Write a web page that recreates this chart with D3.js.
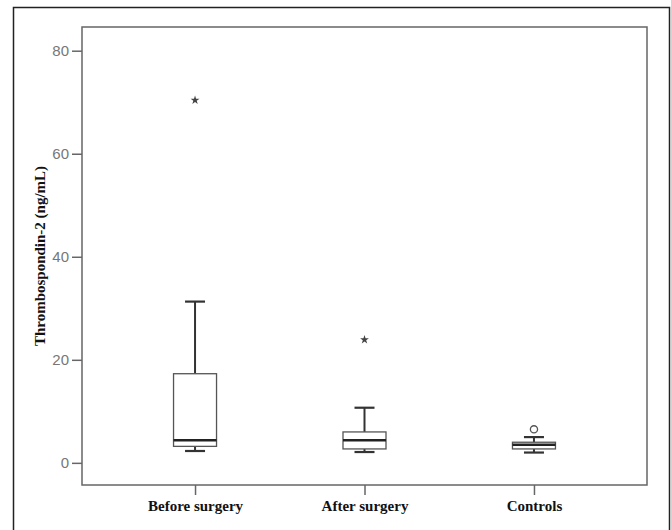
<!DOCTYPE html>
<html>
<head>
<meta charset="utf-8">
<script src="https://cdn.jsdelivr.net/npm/d3@7"></script>
<style>
  body { margin: 0; background: #fff; }
  svg { display: block; }
</style>
</head>
<body>
<div id="viz"></div>
<script>
// data
var groups = ["Before surgery", "After surgery", "Controls"];
var mins    = [2.3, 2.1, 2.0];
var q1s     = [3.2, 2.7, 2.7];
var medians = [4.4, 4.4, 3.5];
var q3s     = [17.3, 6.0, 4.0];
var maxs    = [31.3, 10.7, 5.0];
// outliers: "star" = extreme, "circle" = mild
var outlierGroup = ["Before surgery", "After surgery", "Controls"];
var outlierValue = [70.4, 23.9, 6.5];
var outlierType  = ["star", "star", "circle"];
var yTicks = [0, 20, 40, 60, 80];

var width = 671, height = 530;
var plot = {left: 82, right: 647, top: 27, bottom: 485};

var svg = d3.select("#viz").append("svg")
    .attr("width", width)
    .attr("height", height);

// outer frame
svg.append("rect")
    .attr("x", 13.5).attr("y", 7.5)
    .attr("width", 656).attr("height", 540)
    .attr("fill", "none")
    .attr("stroke", "#222")
    .attr("stroke-width", 1.5);

var x = d3.scalePoint()
    .domain(groups)
    .range([plot.left, plot.right])
    .padding(0.667);

var y = d3.scaleLinear()
    .domain([-4.3, 84.6])
    .range([plot.bottom, plot.top]);

// plot frame
svg.append("rect")
    .attr("x", plot.left).attr("y", plot.top)
    .attr("width", plot.right - plot.left)
    .attr("height", plot.bottom - plot.top)
    .attr("fill", "none")
    .attr("stroke", "#666")
    .attr("stroke-width", 1.5);

// y axis
var yAxis = svg.append("g")
    .attr("transform", "translate(" + plot.left + ",0)")
    .call(d3.axisLeft(y).tickValues(yTicks).tickSize(10).tickPadding(3));
yAxis.select(".domain").remove();
yAxis.selectAll(".tick line").attr("stroke", "#666").attr("stroke-width", 1.5);
yAxis.selectAll(".tick text")
    .attr("fill", "#777")
    .style("font-family", "'Liberation Sans', Arial, sans-serif")
    .style("font-size", "15px");

// x axis
var xAxis = svg.append("g")
    .attr("transform", "translate(0," + plot.bottom + ")")
    .call(d3.axisBottom(x).tickSize(10).tickPadding(5));
xAxis.select(".domain").remove();
xAxis.selectAll(".tick line").attr("stroke", "#666").attr("stroke-width", 1.5);
xAxis.selectAll(".tick text")
    .attr("fill", "#111")
    .style("font-family", "'Liberation Serif', 'Times New Roman', serif")
    .style("font-weight", "bold")
    .style("font-size", "15px");

// y title
svg.append("text")
    .attr("transform", "translate(45," + ((plot.top + plot.bottom) / 2) + ") rotate(-90)")
    .attr("text-anchor", "middle")
    .attr("fill", "#111")
    .style("font-family", "'Liberation Serif', 'Times New Roman', serif")
    .style("font-weight", "bold")
    .style("font-size", "15px")
    .text("Thrombospondin-2 (ng/mL)");

var boxW = 43, capW = 20;
var data = groups.map(function(g, i) {
    return {g: g, min: mins[i], q1: q1s[i], med: medians[i], q3: q3s[i], max: maxs[i]};
});

var boxes = svg.selectAll(".box").data(data).enter().append("g").attr("class", "box");

// whiskers
boxes.append("line")
    .attr("x1", function(d) { return x(d.g); }).attr("x2", function(d) { return x(d.g); })
    .attr("y1", function(d) { return y(d.q3); }).attr("y2", function(d) { return y(d.max); })
    .attr("stroke", "#333").attr("stroke-width", 2);
boxes.append("line")
    .attr("x1", function(d) { return x(d.g); }).attr("x2", function(d) { return x(d.g); })
    .attr("y1", function(d) { return y(d.q1); }).attr("y2", function(d) { return y(d.min); })
    .attr("stroke", "#333").attr("stroke-width", 2);
// caps
boxes.append("line")
    .attr("x1", function(d) { return x(d.g) - capW / 2; }).attr("x2", function(d) { return x(d.g) + capW / 2; })
    .attr("y1", function(d) { return y(d.max); }).attr("y2", function(d) { return y(d.max); })
    .attr("stroke", "#333").attr("stroke-width", 2.2);
boxes.append("line")
    .attr("x1", function(d) { return x(d.g) - capW / 2; }).attr("x2", function(d) { return x(d.g) + capW / 2; })
    .attr("y1", function(d) { return y(d.min); }).attr("y2", function(d) { return y(d.min); })
    .attr("stroke", "#333").attr("stroke-width", 2.2);
// box
boxes.append("rect")
    .attr("x", function(d) { return x(d.g) - boxW / 2; })
    .attr("y", function(d) { return y(d.q3); })
    .attr("width", boxW)
    .attr("height", function(d) { return y(d.q1) - y(d.q3); })
    .attr("fill", "#fff")
    .attr("stroke", "#555").attr("stroke-width", 1.3);
// median
boxes.append("line")
    .attr("x1", function(d) { return x(d.g) - boxW / 2; }).attr("x2", function(d) { return x(d.g) + boxW / 2; })
    .attr("y1", function(d) { return y(d.med); }).attr("y2", function(d) { return y(d.med); })
    .attr("stroke", "#222").attr("stroke-width", 2.6);

// outliers
outlierGroup.forEach(function(g, i) {
    var cx = x(g), cy = y(outlierValue[i]);
    if (outlierType[i] == "star") {
        svg.append("path")
            .attr("d", d3.symbol().type(d3.symbolStar).size(24)())
            .attr("transform", "translate(" + cx + "," + cy + ")")
            .attr("fill", "#444");
    } else {
        svg.append("circle")
            .attr("cx", cx).attr("cy", cy).attr("r", 3.6)
            .attr("fill", "#fff")
            .attr("stroke", "#555").attr("stroke-width", 1.3);
    }
});
</script>
</body>
</html>
